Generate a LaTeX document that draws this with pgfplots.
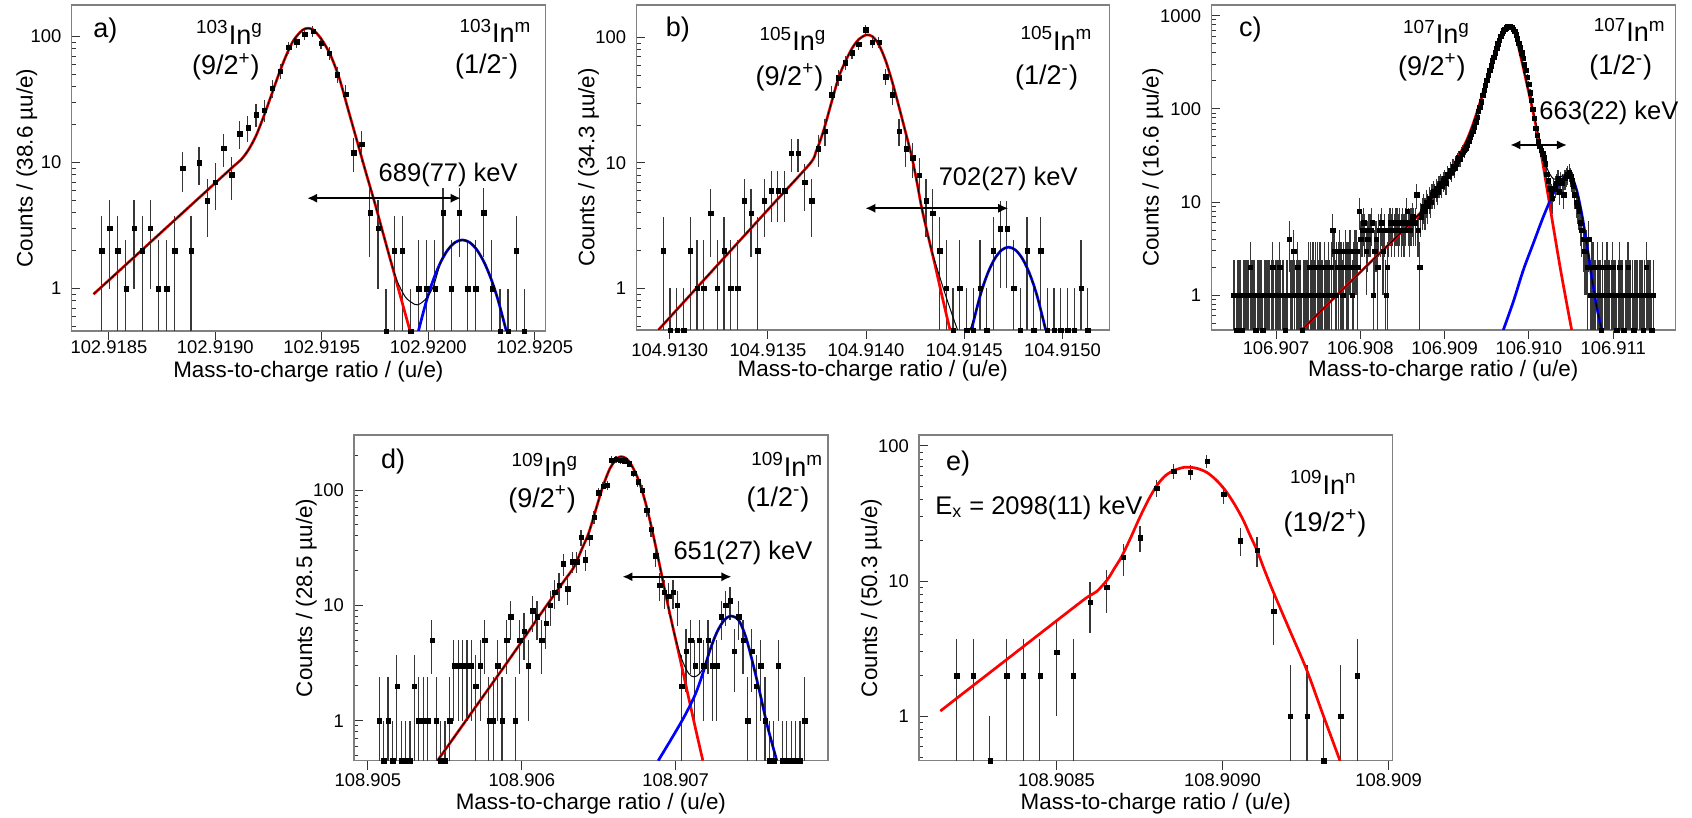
\documentclass[border=0pt]{standalone}
\usepackage{fontspec}
\setmainfont{Liberation Sans}
\usepackage{pgfplots}
\pgfplotsset{compat=1.18}
\usepackage{pgfplotstable}
\usetikzlibrary{arrows.meta}
\definecolor{framegray}{RGB}{128,128,128}
\definecolor{errgray}{RGB}{55,55,55}
\definecolor{fitred}{RGB}{255,0,0}
\definecolor{fitblue}{RGB}{0,0,255}
\newcommand\fs[1]{\fontsize{#1}{#1}\selectfont}

% counts per bin
\pgfplotstableread[row sep=\\]{n\\2\\3\\2\\1\\3\\2\\3\\1\\1\\2\\9\\2\\10\\5\\7\\13\\8\\17\\19\\24\\26\\39\\53\\82\\91\\104\\110\\89\\74\\50\\35\\12\\14\\4\\3\\0\\2\\2\\0\\1\\1\\1\\4\\1\\4\\1\\1\\4\\1\\0\\0\\2\\0\\}\dA
\pgfplotstableread[row sep=\\]{n\\2\\0\\0\\0\\2\\1\\1\\4\\1\\2\\1\\1\\5\\4\\2\\5\\6\\6\\6\\12\\12\\7\\5\\13\\18\\35\\48\\63\\76\\89\\116\\92\\92\\49\\35\\18\\13\\11\\8\\5\\4\\2\\1\\0\\1\\0\\0\\1\\0\\2\\3\\3\\1\\0\\2\\0\\2\\0\\0\\0\\0\\0\\1\\0\\}\dB
\pgfplotstableread[row sep=\\]{n\\
1\\1\\0\\1\\1\\1\\0\\1\\1\\1\\
1\\1\\2\\1\\1\\1\\0\\1\\1\\1\\
1\\0\\1\\1\\1\\1\\1\\1\\2\\1\\
1\\1\\1\\2\\1\\1\\1\\0\\1\\1\\
4\\1\\1\\3\\1\\1\\2\\1\\1\\0\\
1\\1\\1\\1\\2\\2\\1\\2\\1\\2\\
2\\1\\2\\1\\1\\2\\1\\1\\2\\1\\
2\\5\\3\\1\\2\\2\\3\\2\\1\\2\\
3\\2\\2\\3\\3\\1\\2\\3\\3\\2\\
8\\4\\5\\6\\5\\3\\4\\5\\5\\6\\
1\\3\\4\\2\\5\\5\\6\\3\\5\\1\\
2\\5\\6\\5\\6\\5\\6\\6\\5\\6\\
5\\6\\5\\6\\8\\6\\5\\6\\7\\6\\
6\\12\\5\\2\\7\\8\\9\\8\\10\\9\\
11\\10\\12\\13\\12\\14\\13\\15\\16\\15\\
17\\18\\16\\20\\19\\22\\21\\24\\23\\26\\
28\\30\\29\\33\\35\\36\\38\\41\\45\\50\\
54\\58\\64\\72\\82\\95\\105\\120\\140\\160\\
180\\205\\230\\260\\290\\330\\360\\400\\450\\500\\
550\\600\\650\\690\\720\\745\\765\\775\\770\\750\\
720\\680\\625\\570\\510\\455\\400\\350\\300\\260\\
220\\185\\150\\125\\100\\80\\62\\52\\45\\40\\
36\\33\\30\\26\\20\\17\\14\\12\\11\\14\\
15\\16\\18\\13\\17\\16\\12\\18\\19\\20\\
21\\19\\17\\15\\12\\10\\9\\8\\6\\5\\
4\\3\\3\\2\\4\\1\\2\\2\\1\\1\\
2\\1\\1\\0\\2\\1\\1\\2\\1\\1\\
1\\2\\1\\1\\0\\1\\2\\1\\1\\0\\
1\\1\\2\\1\\1\\1\\0\\1\\1\\1\\
1\\1\\1\\0\\1\\2\\1\\1\\1\\0\\1\\}\dC
\pgfplotstableread[row sep=\\]{n\\1\\0\\1\\0\\2\\0\\0\\0\\2\\1\\1\\1\\5\\1\\0\\0\\1\\3\\3\\3\\3\\3\\2\\3\\5\\1\\1\\3\\1\\5\\8\\1\\5\\6\\3\\9\\8\\5\\7\\10\\13\\15\\23\\14\\24\\24\\39\\25\\39\\58\\95\\108\\110\\182\\185\\182\\180\\170\\141\\118\\100\\67\\46\\27\\15\\13\\12\\13\\10\\2\\4\\5\\3\\5\\3\\5\\3\\3\\8\\10\\11\\4\\8\\5\\1\\4\\2\\3\\1\\0\\0\\3\\0\\0\\0\\0\\0\\1\\}\dD
\pgfplotstableread[row sep=\\]{n\\2\\2\\0\\2\\2\\2\\3\\2\\7\\9\\15\\21\\49\\65\\64\\77\\44\\20\\17\\6\\1\\1\\0\\1\\2\\}\dE

\pgfplotsset{
  inpanelstyle/.style={
    scale only axis, clip=true,
    axis line style={draw=framegray, line width=0.6pt},
    tick align=inside, major tick length=4.5pt, minor tick length=2.2pt,
    xtick pos=left, ytick pos=left,
    tick style={black!80, line width=0.5pt},
    xtick style={yshift=-4.5pt},
    xticklabel style={font=\fs{9.2}, anchor=center},
    yticklabel style={font=\fs{9.2}, anchor=east, xshift=-1.5pt},
    every axis label/.append style={font=\fs{11.2}},
    xlabel={Mass-to-charge ratio / (u/e)},
    minor ytick={0.5,0.6,0.7,0.8,0.9,2,3,4,5,6,7,8,9,20,30,40,50,60,70,80,90,200,300,400,500,600,700,800,900},
  },
  cntdata/.style={only marks, mark=square*, mark size=1.1pt,
    mark options={draw=black, fill=black, line width=0.1pt},
    error bars/y dir=both, error bars/y explicit, error bars/error mark=none,
    error bars/error bar style={errgray, line width=0.6pt}},
  redfit/.style={fitred, line width=1.35pt, smooth, no markers},
  bluefit/.style={fitblue, line width=1.35pt, smooth, no markers},
  totfit/.style={black, line width=0.5pt, smooth, no markers},
}
\tikzset{dimarrow/.style={{Latex[length=5pt,width=4.6pt]}-{Latex[length=5pt,width=4.6pt]}, line width=0.9pt, black}}

\begin{document}
\begin{tikzpicture}
\path[use as bounding box] (0,0) rectangle (846pt,409pt);

% ---------------- a)
\begin{axis}[inpanelstyle, ymode=log, at={(35.7pt,243.5pt)}, anchor=south west, width=237pt, height=163pt,
  xmin=323.8, xmax=2550.4, ymin=0.46, ymax=178,
  ytick={1,10,100}, yticklabels={1,10,100},
  xtick={500,1000,1500,2000,2500}, xticklabels={102.9185,102.9190,102.9195,102.9200,102.9205},
  xticklabel style={yshift=-8pt},
  xlabel style={at={(axis description cs:0.5,-0.1248)}, anchor=center},
  ylabel={Counts / (38.6 µu/e)},
  ylabel style={at={(axis description cs:-0.0941,0.5)}, anchor=center}]
\addplot[cntdata] table[x index=0, y index=0, x expr={465+38.2*\coordindex}, y expr={max(\thisrow{n},0.46)},
  y error plus expr={sqrt(\thisrow{n}+1)-max(0.46-\thisrow{n},0)},
  y error minus expr={min(sqrt(\thisrow{n}+1),max(\thisrow{n},0.46)-0.46)}]{\dA};
\addplot[redfit] coordinates {(427.9,0.902) (575.5,1.522) (743.3,2.766) (911.1,5.02) (1078.9,9.12) (1120,10.5) (1150,12.2) (1175,14.4) (1196.3,17.1) (1229.9,23.9) (1263.4,34.4) (1297,49.6) (1330.6,69.4) (1364.1,91.3) (1397.7,108) (1422.8,115.6) (1456.4,114.3) (1498.3,95.2) (1540.3,71.5) (1582.2,46.7) (1624.2,26.2) (1666.1,14.7) (1708.1,8.23) (1750,4.70) (1792,2.59) (1833.9,1.435) (1875.9,0.792) (1914.5,0.46)};
\addplot[bluefit] coordinates {(1953.9,0.46) (1992.5,0.808) (2026.1,1.201) (2059.6,1.635) (2093.2,2.04) (2126.7,2.326) (2160.3,2.43) (2193.9,2.326) (2227.4,2.04) (2261,1.635) (2294.5,1.201) (2328.1,0.808) (2366.7,0.46)};
\addplot[totfit] coordinates {(427.9,0.902) (575.5,1.522) (743.3,2.766) (911.1,5.02) (1078.9,9.12) (1120,10.5) (1150,12.2) (1175,14.4) (1196.3,17.1) (1229.9,23.9) (1263.4,34.4) (1297,49.6) (1330.6,69.4) (1364.1,91.3) (1397.7,108) (1422.8,115.6) (1456.4,114.3) (1498.3,95.2) (1540.3,71.5) (1582.2,46.7) (1624.2,26.2) (1666.1,14.7) (1708.1,8.23) (1750,4.70) (1792,2.59) (1812.1,1.94) (1851.9,1.17) (1891,0.864) (1922.4,0.774) (1948.9,0.742) (1985,0.813) (2024,1.037) (2059.6,1.635) (2093.2,2.04) (2126.7,2.326) (2160.3,2.43) (2193.9,2.326) (2227.4,2.04) (2261,1.635) (2294.5,1.201) (2328.1,0.808) (2366.7,0.46)};
\draw[dimarrow] (axis cs:1431.2,5.21) -- (axis cs:2152.7,5.21);
\end{axis}

% ---------------- b)
\begin{axis}[inpanelstyle, ymode=log, at={(318.05pt,244pt)}, anchor=south west, width=236.6pt, height=162.5pt,
  xmin=-170.9, xmax=2238.3, ymin=0.465, ymax=182,
  ytick={1,10,100}, yticklabels={1,10,100},
  xtick={0,500,1000,1500,2000}, xticklabels={104.9130,104.9135,104.9140,104.9145,104.9150},
  xticklabel style={yshift=-10pt},
  xlabel style={at={(axis description cs:0.5,-0.125)}, anchor=center},
  ylabel={Counts / (34.3 µu/e)},
  ylabel style={at={(axis description cs:-0.1004,0.5)}, anchor=center}]
\addplot[cntdata] table[x index=0, y index=0, x expr={-32.2+34.29*\coordindex}, y expr={max(\thisrow{n},0.465)},
  y error plus expr={sqrt(\thisrow{n}+1)-max(0.465-\thisrow{n},0)},
  y error minus expr={min(sqrt(\thisrow{n}+1),max(\thisrow{n},0.465)-0.465)}]{\dB};
\addplot[redfit] coordinates {(-57.6,0.465) (169.1,1.142) (350.9,2.345) (532.7,4.815) (714.6,9.89) (745,12.3) (770,15.6) (792.7,20.3) (827.3,31.8) (861.8,48.9) (894.5,64.4) (929.1,82.3) (963.6,97.1) (1001.8,105) (1032.7,101.9) (1065.5,87.4) (1098.2,66.3) (1132.7,44.6) (1167.3,28.1) (1200,17.8) (1232.7,11.2) (1260,6.88) (1281.8,4.48) (1314.5,2.665) (1350.9,1.535) (1387.3,0.858) (1427.3,0.465)};
\addplot[bluefit] coordinates {(1536.4,0.465) (1580,0.865) (1616.4,1.283) (1652.8,1.70) (1689.1,2.013) (1725.5,2.13) (1761.9,2.013) (1798.2,1.70) (1834.6,1.283) (1871,0.865) (1914.6,0.465)};
\addplot[totfit] coordinates {(-57.6,0.465) (169.1,1.142) (350.9,2.345) (532.7,4.815) (714.6,9.89) (745,12.3) (770,15.6) (792.7,20.3) (827.3,31.8) (861.8,48.9) (894.5,64.4) (929.1,82.3) (963.6,97.1) (1001.8,105) (1032.7,101.9) (1065.5,87.4) (1098.2,66.3) (1132.7,44.6) (1167.3,28.1) (1200,17.8) (1232.7,11.2) (1260,6.88) (1281.8,4.48) (1314.5,2.665) (1342.4,1.80) (1405.5,0.874) (1466,0.465) (1496.4,0.38) (1536.6,0.50) (1580,0.865) (1616.4,1.283) (1652.8,1.70) (1689.1,2.013) (1725.5,2.13) (1761.9,2.013) (1798.2,1.70) (1834.6,1.283) (1871,0.865) (1914.6,0.465)};
\draw[dimarrow] (axis cs:996.4,4.35) -- (axis cs:1723.7,4.35);
\end{axis}

% ---------------- c)
\begin{axis}[inpanelstyle, ymode=log, at={(605.6pt,244pt)}, anchor=south west, width=232.05pt, height=162.5pt,
  xmin=231.3, xmax=5736.7, ymin=0.424, ymax=1303,
  xtick={1000,2000,3000,4000,5000}, xticklabels={106.907,106.908,106.909,106.910,106.911},
  ytick={1,10,100,1000}, yticklabels={1,10,100,1000},
  xticklabel style={yshift=-9pt},
  xlabel style={at={(axis description cs:0.5,-0.125)}, anchor=center},
  ylabel={Counts / (16.6 µu/e)},
  ylabel style={at={(axis description cs:-0.1258,0.5)}, anchor=center}]
\addplot[cntdata] table[x index=0, y index=0, x expr={493.5+16.6*\coordindex}, y expr={max(\thisrow{n},0.424)},
  y error plus expr={sqrt(\thisrow{n}+1)-max(0.424-\thisrow{n},0)},
  y error minus expr={min(sqrt(\thisrow{n}+1),max(\thisrow{n},0.424)-0.424)}]{\dC};
\addplot[redfit] coordinates {(1304.9,0.424) (2000,1.77) (2470.9,4.6) (2708,7.6) (2866,11.4) (3064,21.2) (3262,46) (3380.6,90) (3499,204) (3618,465) (3696,673) (3764,775) (3835,647) (3894,395) (3974,188) (4052,90) (4131.6,39) (4211,14.6) (4290,5.4) (4369,2.03) (4448,0.82) (4507.6,0.424)};
\addplot[bluefit] coordinates {(3696.6,0.425) (3815.3,0.855) (3933.9,1.868) (4052.5,3.61) (4171.1,6.96) (4289.7,12.4) (4369,16.5) (4448,19.5) (4507.2,18.7) (4566.5,13.4) (4625.8,7.56) (4685.1,3.61) (4744.4,1.58) (4803.8,0.756) (4863.1,0.425)};
\addplot[totfit] coordinates {(1304.9,0.424) (2000,1.77) (2470.9,4.6) (2708,7.6) (2866,11.4) (3064,21.2) (3262,46) (3380.6,90) (3499,204) (3618,465) (3696,673) (3764,775) (3835,647) (3894,395) (3974,188) (4052,93.6) (4131.6,44.5) (4211,23.6) (4290,17.8) (4369,18.5) (4448,20.3) (4507.2,19.1) (4566.5,13.4) (4625.8,7.56) (4685.1,3.61) (4744.4,1.58) (4803.8,0.756) (4863.1,0.425)};
\draw[dimarrow] (axis cs:3780.4,41) -- (axis cs:4450.6,41);
\end{axis}

% ---------------- d)
\begin{axis}[inpanelstyle, ymode=log, at={(176.95pt,28.65pt)}, anchor=south west, width=237pt, height=162.85pt,
  xmin=909.5, xmax=3988.6, ymin=0.45, ymax=300,
  ytick={1,10,100}, yticklabels={1,10,100},
  xtick={1000,2000,3000}, xticklabels={108.905,108.906,108.907},
  xticklabel style={yshift=-9.6pt},
  xlabel style={at={(axis description cs:0.5,-0.1308)}, anchor=center},
  ylabel={Counts / (28.5 µu/e)},
  ylabel style={at={(axis description cs:-0.1002,0.5)}, anchor=center}]
\addplot[cntdata] table[x index=0, y index=0, x expr={1074.5+28.47*\coordindex}, y expr={max(\thisrow{n},0.45)},
  y error plus expr={sqrt(\thisrow{n}+1)-max(0.45-\thisrow{n},0)},
  y error minus expr={min(sqrt(\thisrow{n}+1),max(\thisrow{n},0.45)-0.45)}]{\dD};
\addplot[redfit] coordinates {(1452.4,0.45) (1691.4,1.268) (1923.4,3.47) (2118.3,8.26) (2271.5,16.06) (2341.1,21.7) (2387.5,30.2) (2433.9,42.1) (2480.3,67.1) (2526.7,107) (2573.1,154) (2619.5,188) (2647.3,194.5) (2677.5,188) (2712.3,165) (2758.7,122) (2805.1,76.6) (2851.5,42.1) (2897.9,21.6) (2944.4,10.8) (2990.8,5.71) (3037.2,3.04) (3083.6,1.59) (3130,0.84) (3176.4,0.45)};
\addplot[bluefit] coordinates {(2886.3,0.45) (2967.5,0.68) (3037.2,0.98) (3083.6,1.279) (3130,1.726) (3176.4,2.573) (3222.8,4.10) (3269.2,5.91) (3315.6,7.46) (3357.3,8.08) (3408.4,7.46) (3454.8,5.35) (3501.2,3.14) (3547.6,1.726) (3594,0.917) (3656.6,0.45)};
\addplot[totfit] coordinates {(1452.4,0.45) (1691.4,1.268) (1923.4,3.47) (2118.3,8.26) (2271.5,16.06) (2341.1,21.7) (2387.5,30.2) (2433.9,42.1) (2480.3,67.1) (2526.7,107) (2573.1,154) (2619.5,188) (2647.3,194.5) (2677.5,188) (2712.3,165) (2758.7,122) (2805.1,76.6) (2851.5,42.1) (2897.9,21.6) (2944.4,10.8) (2990.8,5.71) (3037.2,3.47) (3083.6,2.57) (3118.4,2.40) (3153.2,2.54) (3188,3.04) (3222.8,4.10) (3269.2,5.91) (3315.6,7.46) (3357.3,8.08) (3408.4,7.46) (3454.8,5.35) (3501.2,3.14) (3547.6,1.726) (3594,0.917) (3656.6,0.45)};
\draw[dimarrow] (axis cs:2654.3,17.7) -- (axis cs:3362,17.7);
\end{axis}

% ---------------- e)
\begin{axis}[inpanelstyle, ymode=log, at={(459.45pt,28.65pt)}, anchor=south west, width=236.9pt, height=162.85pt,
  xmin=86, xmax=1512.5, ymin=0.47, ymax=120.6,
  ytick={1,10,100}, yticklabels={1,10,100},
  xtick={500,1000,1500}, xticklabels={108.9085,108.9090,108.909},
  xticklabel style={yshift=-9.6pt},
  xlabel style={at={(axis description cs:0.5,-0.1308)}, anchor=center},
  ylabel={Counts / (50.3 µu/e)},
  ylabel style={at={(axis description cs:-0.1003,0.5)}, anchor=center}]
\addplot[cntdata] table[x index=0, y index=0, x expr={198.9+50.27*\coordindex}, y expr={max(\thisrow{n},0.47)},
  y error plus expr={sqrt(\thisrow{n}+1)-max(0.47-\thisrow{n},0)},
  y error minus expr={min(sqrt(\thisrow{n}+1),max(\thisrow{n},0.47)-0.47)}]{\dE};
\addplot[redfit] coordinates {(150.5,1.095) (265.6,1.816) (373.1,2.91) (480.6,4.67) (588.2,7.47) (620.4,8.36) (652.7,10.2) (674.2,12.4) (695.7,15.1) (722.6,20.7) (749.5,29.1) (776.3,39.7) (803.2,51.4) (830.1,60.9) (857,66.4) (883.9,69.5) (905.4,69.5) (926.9,67.9) (953.8,63.6) (980.7,56.1) (1007.5,47.3) (1034.4,37.7) (1061.3,28.7) (1082.8,21.9) (1104.3,16.8) (1125.8,12.2) (1152.7,8.36) (1203.2,4.29) (1253.7,2.20) (1303.2,1.02) (1353.8,0.47)};
\end{axis}

% ---------------- annotations (pixel coordinates of the 1692x818 reference)
\begin{scope}[x=0.5pt, y=-0.5pt, yshift=409pt, every node/.style={inner sep=0pt, anchor=center}]
\node[font=\fs{13.5}] at (105.4,30.7) {a)};
\node[font=\fs{13.5}] at (229.5,32.5) {\textsuperscript{103}In\textsuperscript{g}};
\node[font=\fs{13.5}] at (225.9,66.7) {(9/2\textsuperscript{+})};
\node[font=\fs{13.5}] at (495.5,30.8) {\textsuperscript{103}In\textsuperscript{m}};
\node[font=\fs{13.5}] at (486.6,66.7) {(1/2\textsuperscript{-})};
\node[font=\fs{12.75}] at (448.2,175) {689(77) keV};

\node[font=\fs{13.5}] at (677.9,29.2) {b)};
\node[font=\fs{13.5}] at (793,39) {\textsuperscript{105}In\textsuperscript{g}};
\node[font=\fs{13.5}] at (789.5,77.5) {(9/2\textsuperscript{+})};
\node[font=\fs{13.5}] at (1056.4,38.3) {\textsuperscript{105}In\textsuperscript{m}};
\node[font=\fs{13.5}] at (1046.6,77.5) {(1/2\textsuperscript{-})};
\node[font=\fs{12.75}] at (1008.2,179) {702(27) keV};

\node[font=\fs{13.5}] at (1250.4,30) {c)};
\node[font=\fs{13.5}] at (1436.5,31.7) {\textsuperscript{107}In\textsuperscript{g}};
\node[font=\fs{13.5}] at (1431.9,67.5) {(9/2\textsuperscript{+})};
\node[font=\fs{13.5}] at (1629.8,30) {\textsuperscript{107}In\textsuperscript{m}};
\node[font=\fs{13.5}] at (1620.7,67.5) {(1/2\textsuperscript{-})};
\node[font=\fs{12.75}] at (1608.9,112.5) {663(22) keV};

\node[font=\fs{13.5}] at (393,461.7) {d)};
\node[font=\fs{13.5}] at (544.8,465) {\textsuperscript{109}In\textsuperscript{g}};
\node[font=\fs{13.5}] at (542.1,499.2) {(9/2\textsuperscript{+})};
\node[font=\fs{13.5}] at (787.2,464.2) {\textsuperscript{109}In\textsuperscript{m}};
\node[font=\fs{13.5}] at (777.9,499.2) {(1/2\textsuperscript{-})};
\node[font=\fs{12.75}] at (743,552.5) {651(27) keV};

\node[font=\fs{13.5}] at (958,463.3) {e)};
\node[font=\fs{12.75}] at (1038.9,507.5) {E\textsubscript{x} = 2098(11) keV};
\node[font=\fs{13.5}] at (1323.3,482.5) {\textsuperscript{109}In\textsuperscript{n}};
\node[font=\fs{13.5}] at (1325,523.3) {(19/2\textsuperscript{+})};
\end{scope}
\end{tikzpicture}
\end{document}
